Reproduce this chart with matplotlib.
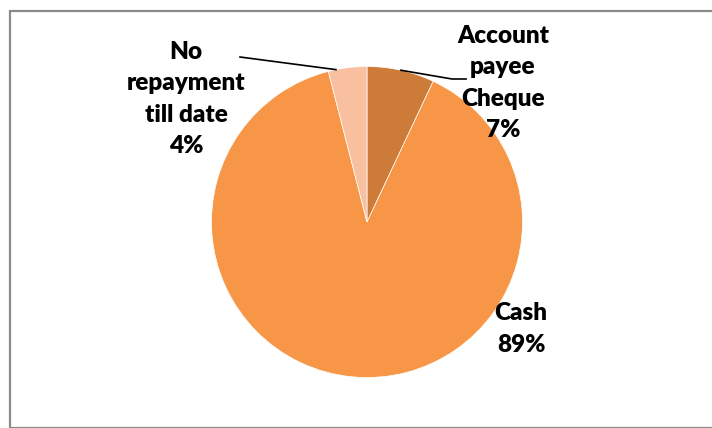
import matplotlib.pyplot as plt
import numpy as np
from matplotlib.patches import Rectangle

# Mode of repayment shares (%), drawn clockwise from 12 o'clock
labels = ["Account\npayee\nCheque", "Cash", "No\nrepayment\ntill date"]
shares = [7, 89, 4]
colors = ["#CD7B38", "#F79646", "#F9C09F"]

W, H = 712, 428
fig = plt.figure(figsize=(W / 100, H / 100), dpi=100)
ax = fig.add_axes([0, 0, 1, 1])

# chart frame (pixel coords, y measured from the top)
fig.patches.append(Rectangle((9.5 / W, 0), 1, 1 - 11 / H, transform=fig.transFigure,
                             fill=False, edgecolor="#8a8a8a", linewidth=1.6))

cx, cy, r = 367, H - 222, 155.5
wedges, _ = ax.pie(shares, colors=colors, startangle=90, counterclock=False,
                   center=(cx, cy), radius=r,
                   wedgeprops=dict(edgecolor="white", linewidth=0.5))
ax.set_xlim(0, W)
ax.set_ylim(0, H)
ax.set_aspect("equal")
ax.axis("off")

font = dict(family=["Lato", "DejaVu Sans"], fontweight="heavy", fontsize=17.5,
            ha="center", va="center", linespacing=1.52)

def edge_point(w, frac=0.5):
    ang = np.deg2rad(w.theta1 + frac * (w.theta2 - w.theta1))
    return cx + r * np.cos(ang), cy + r * np.sin(ang)

# Account payee Cheque
ax.text(503, H - 83, f"{labels[0]}\n{shares[0]}%", **font)
ex, ey = edge_point(wedges[0])
ax.plot([ex, 452, 466], [ey, H - 79, H - 79], color="black", lw=1.2)

# Cash
ax.text(521, H - 329, f"{labels[1]}\n{shares[1]}%", **font)

# No repayment till date
ax.text(186, H - 99, f"{labels[2]}\n{shares[2]}%", **font)
ex, ey = edge_point(wedges[2], 0.8)
ax.plot([240, ex], [H - 57, ey], color="black", lw=1.2)

fig.savefig("out.png", dpi=100)
